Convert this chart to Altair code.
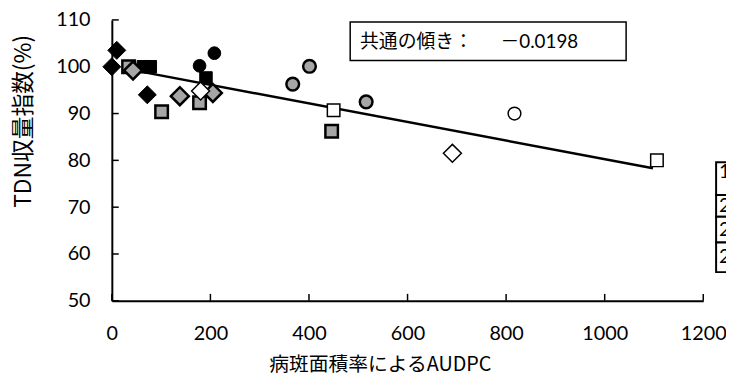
import altair as alt
import pandas as pd

# ---- data (x = AUDPC, y = TDN yield index %) ----
black_diamond_x = [0, 10, 72]
black_diamond_y = [100.0, 103.5, 94.0]
black_square_x = [64, 78, 191]
black_square_y = [100.0, 100.0, 97.6]
black_circle_x = [178, 208]
black_circle_y = [100.2, 102.9]
gray_square_x = [34, 101, 178, 446]
gray_square_y = [100.0, 90.4, 92.3, 86.2]
gray_diamond_x = [43, 138, 205]
gray_diamond_y = [99.2, 93.7, 94.4]
gray_circle_x = [367, 401, 516]
gray_circle_y = [96.3, 100.1, 92.5]
white_diamond_x = [180, 691]
white_diamond_y = [94.8, 81.5]
white_square_x = [450, 1106]
white_square_y = [90.7, 80.0]
white_circle_x = [817]
white_circle_y = [90.0]

line_x = [21, 1098]
line_y = [99.7, 78.3]

x_ticks = [0, 200, 400, 600, 800, 1000, 1200]
y_ticks = [50, 60, 70, 80, 90, 100, 110]

x_title = "病斑面積率によるAUDPC"
y_title = "TDN収量指数(%)"
slope_head = "共通の傾き："
slope_value = "－0.0198"
legend_rows = ["1998年", "2000年", "2001年", "2002年"]

GRAY = "#a6a6a6"

# ---- build table ----
series = [
    ("square", "black", black_square_x, black_square_y),
    ("circle", "black", black_circle_x, black_circle_y),
    ("diamond", "black", black_diamond_x, black_diamond_y),
    ("square", "gray", gray_square_x, gray_square_y),
    ("diamond", "gray", gray_diamond_x, gray_diamond_y),
    ("circle", "gray", gray_circle_x, gray_circle_y),
    ("square", "white", white_square_x, white_square_y),
    ("diamond", "white", white_diamond_x, white_diamond_y),
    ("circle", "white", white_circle_x, white_circle_y),
]
size_map = {"square": 160, "circle": 165, "diamond": 330}
sw_map = {"black": 1.0, "gray": 2.5, "white": 1.5}
rows = []
for shp, fl, xs_, ys_ in series:
    for xv, yv in zip(xs_, ys_):
        rows.append({"x": xv, "y": yv, "shape": shp, "fill": fl,
                     "size": size_map[shp], "sw": sw_map[fl]})
pts = pd.DataFrame(rows)
pts["order"] = range(len(pts))

W, H = 598, 284
xs = alt.Scale(domain=[0, 1200], nice=False)
ys = alt.Scale(domain=[50, 110], nice=False)

line = alt.Chart(pd.DataFrame({"x": line_x, "y": line_y})).mark_line(
    color="black", strokeWidth=2.5
).encode(
    x=alt.X("x:Q", scale=xs,
            axis=alt.Axis(values=x_ticks, format="d", title=x_title, ticks=False, grid=False,
                          labelFlush=False, labelPadding=23, titleX=271, titleY=64,
                          titleFontSize=20,
                          titleAnchor="middle", titleBaseline="middle", titleAlign="center")),
    y=alt.Y("y:Q", scale=ys,
            axis=alt.Axis(values=y_ticks, title=y_title, ticks=False, grid=False,
                          labelFlush=False, labelPadding=22, titleX=-89, titleY=102,
                          titleAngle=-90, titleFontSize=23,
                          titleAnchor="middle", titleBaseline="middle",
                          titleAlign="center")),
)

yt = alt.Chart(pd.DataFrame({"v": y_ticks})).mark_rule(color="black", strokeWidth=1.5).encode(
    y=alt.Y("v:Q", scale=ys), x=alt.value(0), x2=alt.value(7))
xt = alt.Chart(pd.DataFrame({"v": x_ticks})).mark_rule(color="black", strokeWidth=1.5).encode(
    x=alt.X("v:Q", scale=xs), y=alt.value(H), y2=alt.value(H - 7))

points = alt.Chart(pts).mark_point(filled=True, stroke="black", opacity=1).encode(
    x=alt.X("x:Q", scale=xs),
    y=alt.Y("y:Q", scale=ys),
    shape=alt.Shape("shape:N", scale=alt.Scale(domain=["square", "circle", "diamond"],
                                               range=["square", "circle", "diamond"]), legend=None),
    fill=alt.Fill("fill:N", scale=alt.Scale(domain=["black", "gray", "white"],
                                            range=["black", GRAY, "white"]), legend=None),
    size=alt.Size("size:Q", scale=None),
    strokeWidth=alt.StrokeWidth("sw:Q", scale=None),
    order="order:Q",
)

box = alt.Chart(pd.DataFrame({"a": [0]})).mark_rect(fill="white", stroke="black", strokeWidth=1.5).encode(
    x=alt.value(241), x2=alt.value(520), y=alt.value(2), y2=alt.value(41))
box_text1 = alt.Chart(pd.DataFrame({"t": [slope_head]})).mark_text(
    align="left", baseline="middle", font="Noto Sans CJK JP", fontSize=19, color="black"
).encode(text="t:N", x=alt.value(251), y=alt.value(22))
box_text2 = alt.Chart(pd.DataFrame({"t": [slope_value]})).mark_text(
    align="left", baseline="middle", font="Lato, Noto Sans CJK JP", fontSize=19, color="black"
).encode(text="t:N", x=alt.value(393), y=alt.value(22))

# legend table (cut off at right edge in the reference)
edges = [144, 177, 199, 225, 255]
text_y = [154, 188, 212, 240]
leg_layers = []
for i, lab in enumerate(legend_rows):
    leg_layers.append(
        alt.Chart(pd.DataFrame({"t": [lab]})).mark_rect(fill="white", stroke="black", strokeWidth=2).encode(
            x=alt.value(611), x2=alt.value(700), y=alt.value(edges[i]), y2=alt.value(edges[i + 1])))
    leg_layers.append(
        alt.Chart(pd.DataFrame({"t": [lab]})).mark_text(
            align="left", baseline="middle", font="Lato", fontSize=20, color="black"
        ).encode(text="t:N", x=alt.value(614), y=alt.value(text_y[i])))

chart = alt.layer(line, yt, xt, points, box, box_text1, box_text2, *leg_layers).properties(
    width=W, height=H,
    autosize=alt.AutoSizeParams(type="none"),
    padding={"left": 105, "top": 10, "right": 23, "bottom": 76},
).configure_view(stroke=None).configure_axis(
    domainColor="black", domainWidth=2,
    labelFont="Lato", labelFontSize=20, labelColor="black",
    titleFont="Noto Sans CJK JP", titleFontWeight="normal", titleColor="black",
)

chart.save("out.html", embed_options={"renderer": "svg", "actions": False})
